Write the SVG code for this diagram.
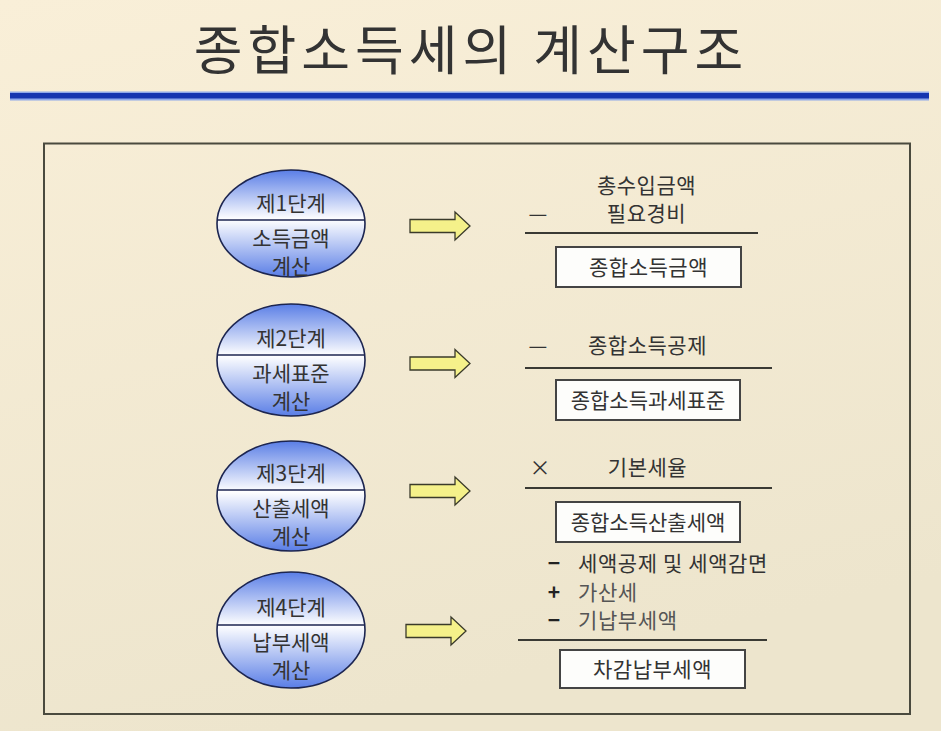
<svg xmlns="http://www.w3.org/2000/svg" width="941" height="731" viewBox="0 0 941 731">
<defs>
<linearGradient id="bg" x1="0" y1="0" x2="0.3" y2="1">
<stop offset="0" stop-color="#f9efd8"/>
<stop offset="1" stop-color="#ede5cd"/>
</linearGradient>
<linearGradient id="ell" x1="0" y1="0" x2="0" y2="1">
<stop offset="0" stop-color="#5a7ee6"/>
<stop offset="0.46" stop-color="#ffffff"/>
<stop offset="1" stop-color="#5a7ee6"/>
</linearGradient>
<path id="arr" d="M0,-6.5 H45 V-14 L60,0 L45,14 V6.5 H0 Z"/>
<style>
.t{font-family:"Noto Sans CJK KR","Noto Sans",sans-serif;font-size:21px;fill:#333;}
.c{text-anchor:middle;}
.e{fill:url(#ell);stroke:#1c2550;stroke-width:1.6;}
.d{stroke:#1c2550;stroke-width:1.6;}
.box{fill:#fdfdfb;stroke:#444;stroke-width:2;}
.rule{stroke:#3a3a34;stroke-width:2;}
.a{fill:#f5f18a;stroke:#3a3a2a;stroke-width:1.3;}
.g{fill:#555;}
.s{font-weight:bold;fill:#222;}
</style>
</defs>
<rect x="0" y="0" width="941" height="731" fill="url(#bg)"/>
<g id="title">
<text x="471" y="70" text-anchor="middle" font-family="Noto Sans CJK KR, Noto Sans, sans-serif" font-size="53" letter-spacing="5" fill="#333">종합소득세의 계산구조</text>
<rect x="10" y="91.5" width="919" height="9" fill="#8ea8ea"/>
<rect x="10" y="93" width="919" height="5.5" fill="#1535b0"/>
</g>
<rect id="frame" x="44" y="143.5" width="866" height="570.5" fill="none" stroke="#4a4a3e" stroke-width="2"/>

<g id="stage1">
<ellipse class="e" cx="291" cy="223.5" rx="74" ry="53.5"/>
<line class="d" x1="218" y1="220" x2="364" y2="220"/>
<text class="t c" x="291" y="211">제1단계</text>
<text class="t c" x="291" y="246">소득금액</text>
<text class="t c" x="291" y="274">계산</text>
</g>
<g id="stage2">
<ellipse class="e" cx="291" cy="360" rx="74" ry="56"/>
<line class="d" x1="218" y1="355" x2="364" y2="355"/>
<text class="t c" x="291" y="346">제2단계</text>
<text class="t c" x="291" y="381">과세표준</text>
<text class="t c" x="291" y="409">계산</text>
</g>
<g id="stage3">
<ellipse class="e" cx="291" cy="496" rx="74" ry="55"/>
<line class="d" x1="218" y1="490" x2="364" y2="490"/>
<text class="t c" x="291" y="481">제3단계</text>
<text class="t c" x="291" y="516">산출세액</text>
<text class="t c" x="291" y="544">계산</text>
</g>
<g id="stage4">
<ellipse class="e" cx="291" cy="630" rx="74" ry="58"/>
<line class="d" x1="218" y1="625" x2="364" y2="625"/>
<text class="t c" x="291" y="615">제4단계</text>
<text class="t c" x="291" y="650">납부세액</text>
<text class="t c" x="291" y="678">계산</text>
</g>

<g id="connectors">
<use href="#arr" class="a" transform="translate(410,226)"/>
<use href="#arr" class="a" transform="translate(410,363.5)"/>
<use href="#arr" class="a" transform="translate(410,491)"/>
<use href="#arr" class="a" transform="translate(406,631)"/>
</g>

<g id="calc1">
<text class="t c" x="646.5" y="193" letter-spacing="0.5">총수입금액</text>
<text class="t c" x="538" y="221">—</text>
<text class="t c" x="646.5" y="221" letter-spacing="0.5">필요경비</text>
<line class="rule" x1="525" y1="233" x2="758" y2="233"/>
<rect class="box" x="556" y="247" width="185" height="40"/>
<text class="t c" x="648.5" y="275" letter-spacing="0.5">종합소득금액</text>
</g>
<g id="calc2">
<text class="t c" x="538" y="353">—</text>
<text class="t c" x="647.5" y="353" letter-spacing="0.5">종합소득공제</text>
<line class="rule" x1="525" y1="368" x2="772" y2="368"/>
<rect class="box" x="556" y="380" width="184" height="40"/>
<text class="t c" x="648" y="408">종합소득과세표준</text>
</g>
<g id="calc3">
<text class="t c" x="540" y="475">×</text>
<text class="t c" x="647.5" y="475" letter-spacing="0.5">기본세율</text>
<line class="rule" x1="525" y1="488" x2="772" y2="488"/>
<rect class="box" x="556" y="502" width="184" height="40"/>
<text class="t c" x="648" y="530">종합소득산출세액</text>
</g>
<g id="calc4">
<text class="t c s" x="554" y="570.5">−</text>
<text class="t" x="578" y="570.5" letter-spacing="0.6">세액공제 및 세액감면</text>
<text class="t c s" x="554" y="599.5">+</text>
<text class="t g" x="578" y="599.5" letter-spacing="0.6">가산세</text>
<text class="t c s" x="554" y="628">−</text>
<text class="t g" x="578" y="628" letter-spacing="0.6">기납부세액</text>
<line class="rule" x1="518" y1="640" x2="767" y2="640"/>
<rect class="box" x="560" y="650" width="185" height="38"/>
<text class="t c" x="652.5" y="677" letter-spacing="0.5">차감납부세액</text>
</g>
</svg>
